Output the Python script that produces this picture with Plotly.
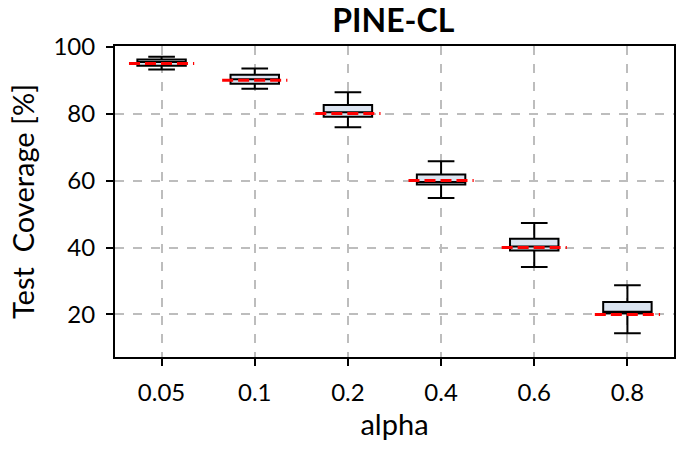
import plotly.graph_objects as go

categories = ["0.05", "0.1", "0.2", "0.4", "0.6", "0.8"]
lower_whisker = [93.2, 87.4, 75.9, 54.8, 34.2, 14.4]
q1 = [94.3, 88.9, 79.1, 58.8, 39.1, 20.4]
median = [95.4, 90.3, 80.4, 59.6, 40.3, 20.8]
q3 = [96.2, 91.6, 82.6, 61.8, 42.6, 23.7]
upper_whisker = [97.0, 93.5, 86.4, 65.8, 47.3, 28.7]
target = [95, 90, 80, 60, 40, 20]

FONT = "Lato"
fig = go.Figure()

for i, c in enumerate(categories):
    fig.add_trace(go.Box(
        x=[i], q1=[q1[i]], median=[median[i]], q3=[q3[i]],
        lowerfence=[lower_whisker[i]], upperfence=[upper_whisker[i]],
        fillcolor="#dbe4f0", line=dict(color="black", width=2),
        width=0.52, whiskerwidth=0.55, boxpoints=False, showlegend=False,
        hoverinfo="skip",
    ))

tx, ty = [], []
for i, t in enumerate(target):
    tx += [i - 0.35, i + 0.35, None]
    ty += [t, t, None]
fig.add_trace(go.Scatter(
    x=tx, y=ty, mode="lines",
    line=dict(color="red", width=3, dash="11px,5px"),
    showlegend=False, hoverinfo="skip",
))

axis_common = dict(
    showline=True, linecolor="black", linewidth=2, mirror=True,
    ticks="outside", ticklen=7, tickwidth=2, tickcolor="black",
    showgrid=True, gridcolor="#bdbdbd", gridwidth=1.5, griddash="dash",
    zeroline=False, tickfont=dict(family=FONT, size=24, color="black"),
)

fig.update_layout(
    width=684, height=450,
    margin=dict(l=115, r=8, t=46, b=93),
    paper_bgcolor="white", plot_bgcolor="white",
    title=dict(text="<b>PINE-CL</b>", x=0.575, xanchor="center", y=0.953, yanchor="middle",
               font=dict(family=FONT, size=32, color="black")),
    xaxis=dict(
        **axis_common,
        tickmode="array", tickvals=list(range(len(categories))), ticktext=categories,
        range=[-0.5, len(categories) - 0.5],
        ticklabelstandoff=6,
        title=dict(text="alpha", font=dict(family=FONT, size=29, color="black"), standoff=6),
    ),
    yaxis=dict(
        **axis_common,
        range=[7.3, 100.2], tickvals=[20, 40, 60, 80, 100],
        ticklabelstandoff=6,
        title=dict(text="Test  Coverage [%]", font=dict(family=FONT, size=29, color="black"), standoff=10),
    ),
)

fig.write_html("out.html")
